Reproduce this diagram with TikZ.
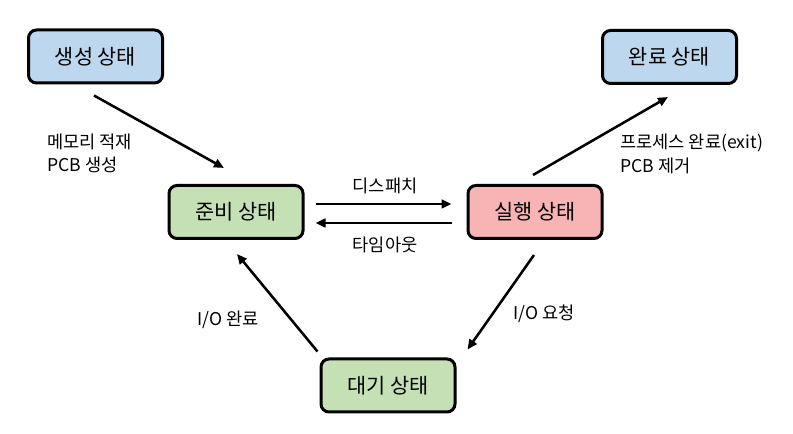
\documentclass[tikz,border=0pt]{standalone}
\usepackage{fontspec}
\setmainfont{Noto Sans CJK KR}
\usetikzlibrary{arrows.meta,calc}
\definecolor{cblue}{HTML}{BDD7EE}
\definecolor{cgreen}{HTML}{C5E0B4}
\definecolor{cpink}{HTML}{F8B4B4}
\begin{document}
\begin{tikzpicture}[x=0.75pt,y=-0.75pt,
  state/.style={draw=black, line width=2.25pt, rounded corners=6pt,
    minimum width=100.5pt, minimum height=39.75pt, inner sep=0pt,
    font=\fontsize{15.6}{18}\selectfont},
  flow/.style={-{Triangle[length=7.5pt,width=6.5pt]}, line width=1.9pt},
  lbl/.style={font=\fontsize{13.2}{16}\selectfont, inner sep=0pt, align=left}]
\useasboundingbox (0,0) rectangle (793,434);
\fill[white] (0,0) rectangle (793,434);

\node[state, fill=cblue]  (create) at (95.5,56.5) {생성 상태};
\node[state, fill=cblue]  (done)   at (669.5,57)  {완료 상태};
\node[state, fill=cgreen] (ready)  at (236,212)   {준비 상태};
\node[state, fill=cpink]  (run)    at (535,212)   {실행 상태};
\node[state, fill=cgreen] (wait)   at (388,385.5) {대기 상태};

\draw[flow] ($(create.south)+(-1.5,11)$) -- ($(ready.north)+(-12,-16)$);
\draw[flow] ($(run.north)+(-2,-9)$) -- ($(done.south)+(-1.5,12)$);
\draw[flow] ($(ready.east)+(11,-8)$) -- ($(run.west)+(-15,-8)$);
\draw[flow] ($(run.west)+(-15,11)$) -- ($(ready.east)+(11,11)$);
\draw[flow] ($(wait.north west)+(-2,-6)$) -- ($(ready.south)+(1,14)$);
\draw[flow] ($(run.south)+(-1,15)$) -- ($(wait.north east)+(11,-8)$);

\node[lbl, anchor=west] (l1a) at (47,142) {메모리 적재};
\node[lbl, anchor=west] (l1b) at (47,165) {PCB 생성};
\node[lbl, anchor=west] (l2a) at (620,143) {프로세스 완료(exit)};
\node[lbl, anchor=west] (l2b) at (620,166) {PCB 제거};
\node[lbl] (l3) at (385,186) {디스패치};
\node[lbl] (l4) at (385,245) {타임아웃};
\node[lbl, anchor=west] (l5) at (197,320) {I/O 완료};
\node[lbl, anchor=west] (l6) at (513,314) {I/O 요청};
\end{tikzpicture}
\end{document}
